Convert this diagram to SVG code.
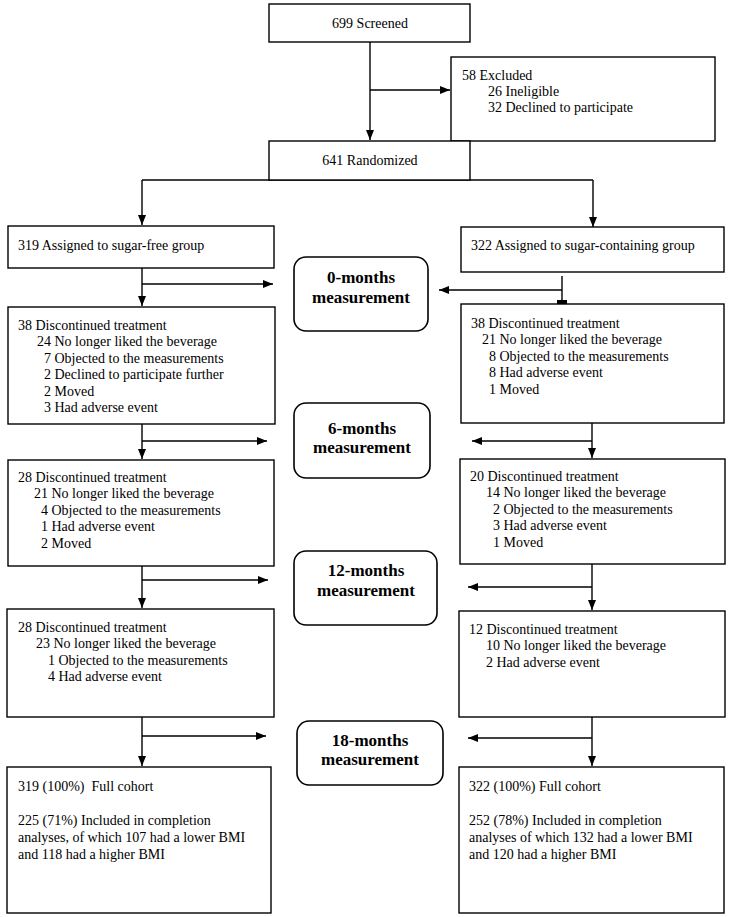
<svg xmlns="http://www.w3.org/2000/svg" width="731" height="917" viewBox="0 0 731 917">
<style>
.box{fill:#fff;stroke:#000;stroke-width:1.4}
.rbox{fill:#fff;stroke:#000;stroke-width:1.6}
.ln{fill:none;stroke:#000;stroke-width:1.4}
text{font-family:"Liberation Serif","Times New Roman",serif;font-size:14px;fill:#000}
.m{font-weight:bold;font-size:17px;text-anchor:middle}
.c{text-anchor:middle}
</style>
<defs>
<marker id="ah" markerUnits="userSpaceOnUse" markerWidth="10" markerHeight="8" refX="10" refY="4" orient="auto">
<path d="M0,0 L10,4 L0,8 z" fill="#000"/>
</marker>
</defs>
<rect width="731" height="917" fill="#fff"/>
<g id="connectors">
<path class="ln" d="M370,42 V140" marker-end="url(#ah)"/>
<path class="ln" d="M370,90 H450" marker-end="url(#ah)"/>
<path class="ln" d="M142,180 H593"/>
<path class="ln" d="M142,180 V225" marker-end="url(#ah)"/>
<path class="ln" d="M593,180 V227" marker-end="url(#ah)"/>
<path class="ln" d="M142,268 V306" marker-end="url(#ah)"/>
<path class="ln" d="M142,284 H273" marker-end="url(#ah)"/>
<path class="ln" d="M562,276 V302"/>
<rect x="557" y="300" width="10" height="4" fill="#000"/>
<path class="ln" d="M562,290 H439" marker-end="url(#ah)"/>
<path class="ln" d="M142,424 V459" marker-end="url(#ah)"/>
<path class="ln" d="M142,441 H267" marker-end="url(#ah)"/>
<path class="ln" d="M592,423 V458" marker-end="url(#ah)"/>
<path class="ln" d="M592,441 H472" marker-end="url(#ah)"/>
<path class="ln" d="M142,566 V608" marker-end="url(#ah)"/>
<path class="ln" d="M142,580 H268" marker-end="url(#ah)"/>
<path class="ln" d="M592,564 V610" marker-end="url(#ah)"/>
<path class="ln" d="M592,587 H468" marker-end="url(#ah)"/>
<path class="ln" d="M142,717 V766" marker-end="url(#ah)"/>
<path class="ln" d="M142,736 H266" marker-end="url(#ah)"/>
<path class="ln" d="M592,717 V766" marker-end="url(#ah)"/>
<path class="ln" d="M592,738 H468" marker-end="url(#ah)"/>
</g>
<g id="screened">
<rect class="box" x="269" y="4" width="201" height="38"/>
<text class="c" x="370" y="28">699 Screened</text>
</g>
<g id="excluded">
<rect class="box" x="451" y="57" width="264" height="84"/>
<text x="462" y="80">58 Excluded</text>
<text x="488" y="96">26 Ineligible</text>
<text x="488" y="112">32 Declined to participate</text>
</g>
<g id="randomized">
<rect class="box" x="269" y="141" width="201" height="39"/>
<text class="c" x="370" y="165">641 Randomized</text>
</g>
<g id="sugarfree">
<rect class="box" x="8" y="226" width="266" height="42"/>
<text x="18" y="250">319 Assigned to sugar-free group</text>
</g>
<g id="sugarcontaining">
<rect class="box" x="461" y="227" width="263" height="45"/>
<text x="471" y="250">322 Assigned to sugar-containing group</text>
</g>
<g id="m0">
<rect class="rbox" x="294" y="257" width="134" height="74" rx="12"/>
<text class="m" x="361" y="283">0-months</text>
<text class="m" x="361" y="303">measurement</text>
</g>
<g id="left38">
<rect class="box" x="8" y="307" width="267" height="117"/>
<text x="18" y="330">38 Discontinued treatment</text>
<text x="37" y="346">24 No longer liked the beverage</text>
<text x="44" y="363">7 Objected to the measurements</text>
<text x="44" y="379">2 Declined to participate further</text>
<text x="44" y="396">2 Moved</text>
<text x="44" y="412">3 Had adverse event</text>
</g>
<g id="right38">
<rect class="box" x="461" y="304" width="263" height="119"/>
<text x="471" y="328">38 Discontinued treatment</text>
<text x="482" y="344">21 No longer liked the beverage</text>
<text x="489" y="361">8 Objected to the measurements</text>
<text x="489" y="377">8 Had adverse event</text>
<text x="489" y="394">1 Moved</text>
</g>
<g id="m6">
<rect class="rbox" x="294" y="403" width="136" height="75" rx="12"/>
<text class="m" x="362" y="434">6-months</text>
<text class="m" x="362" y="453">measurement</text>
</g>
<g id="left28a">
<rect class="box" x="8" y="460" width="266" height="106"/>
<text x="18" y="482">28 Discontinued treatment</text>
<text x="34" y="498">21 No longer liked the beverage</text>
<text x="41" y="515">4 Objected to the measurements</text>
<text x="41" y="531">1 Had adverse event</text>
<text x="41" y="548">2 Moved</text>
</g>
<g id="right20">
<rect class="box" x="460" y="459" width="265" height="105"/>
<text x="470" y="481">20 Discontinued treatment</text>
<text x="486" y="497">14 No longer liked the beverage</text>
<text x="493" y="514">2 Objected to the measurements</text>
<text x="493" y="530">3 Had adverse event</text>
<text x="493" y="547">1 Moved</text>
</g>
<g id="m12">
<rect class="rbox" x="294" y="551" width="143" height="74" rx="12"/>
<text class="m" x="366" y="576">12-months</text>
<text class="m" x="366" y="596">measurement</text>
</g>
<g id="left28b">
<rect class="box" x="7" y="609" width="267" height="108"/>
<text x="18" y="632">28 Discontinued treatment</text>
<text x="36" y="648">23 No longer liked the beverage</text>
<text x="48" y="665">1 Objected to the measurements</text>
<text x="48" y="681">4 Had adverse event</text>
</g>
<g id="right12">
<rect class="box" x="459" y="611" width="266" height="106"/>
<text x="469" y="634">12 Discontinued treatment</text>
<text x="486" y="650">10 No longer liked the beverage</text>
<text x="486" y="667">2 Had adverse event</text>
</g>
<g id="m18">
<rect class="rbox" x="297" y="721" width="146" height="64" rx="12"/>
<text class="m" x="370" y="746">18-months</text>
<text class="m" x="370" y="765">measurement</text>
</g>
<g id="leftfinal">
<rect class="box" x="7" y="767" width="264" height="146"/>
<text x="18" y="791" xml:space="preserve">319 (100%)  Full cohort</text>
<text x="18" y="825">225 (71%) Included in completion</text>
<text x="18" y="842">analyses, of which 107 had a lower BMI</text>
<text x="18" y="859">and 118 had a higher BMI</text>
</g>
<g id="rightfinal">
<rect class="box" x="459" y="767" width="265" height="146"/>
<text x="469" y="791">322 (100%) Full cohort</text>
<text x="469" y="825">252 (78%) Included in completion</text>
<text x="469" y="842">analyses of which 132 had a lower BMI</text>
<text x="469" y="859">and 120 had a higher BMI</text>
</g>
</svg>
